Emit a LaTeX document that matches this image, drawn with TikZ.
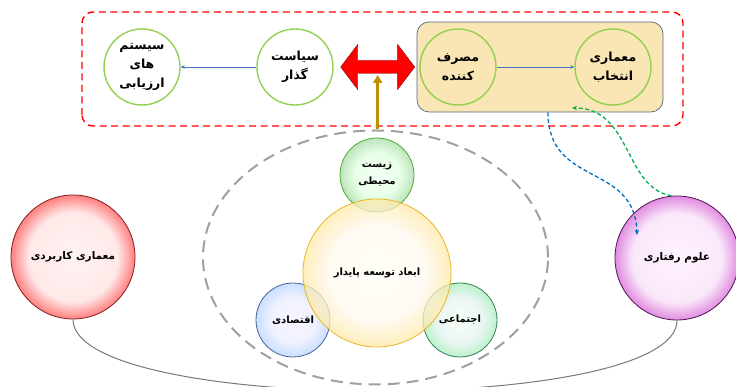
\documentclass[tikz,border=0pt]{standalone}
\usepackage{fontspec}
\newfontfamily\arabicfont[Script=Arabic]{DejaVu Sans}
\TeXXeTstate=1
\usetikzlibrary{arrows.meta, positioning, calc, shapes.geometric}

\definecolor{leafgreen}{RGB}{146, 208, 80}
\definecolor{boxtan}{RGB}{250, 229, 180}
\definecolor{boxedge}{RGB}{84, 100, 130}
\definecolor{linkblue}{RGB}{68, 114, 196}
\definecolor{dashblue}{RGB}{0, 112, 192}
\definecolor{dashgreen}{RGB}{0, 176, 80}
\definecolor{goldline}{RGB}{191, 144, 0}
\definecolor{ringgray}{RGB}{160, 160, 160}
\definecolor{curvegray}{RGB}{120, 120, 120}
\definecolor{coreedge}{RGB}{232, 182, 40}
\definecolor{envedge}{RGB}{80, 170, 50}
\definecolor{econedge}{RGB}{70, 100, 150}
\definecolor{socedge}{RGB}{50, 130, 90}
\definecolor{appedge}{RGB}{130, 30, 30}
\definecolor{behedge}{RGB}{80, 20, 80}
\definecolor{behrim}{RGB}{225, 140, 225}

% radial fills for the round nodes
\pgfdeclareradialshading{corefill}{\pgfpoint{0bp}{0bp}}{color(0bp)=(yellow!4); color(16bp)=(yellow!10!orange!6); color(25bp)=(yellow!50!orange!35); color(50bp)=(yellow!50!orange!35)}
\pgfdeclareradialshading{envfill}{\pgfpoint{0bp}{0bp}}{color(0bp)=(green!6); color(15bp)=(green!12); color(25bp)=(green!60!black!35); color(50bp)=(green!60!black!35)}
\pgfdeclareradialshading{econfill}{\pgfpoint{0bp}{0bp}}{color(0bp)=(blue!5); color(15bp)=(cyan!10!blue!8); color(25bp)=(cyan!40!blue!28); color(50bp)=(cyan!40!blue!28)}
\pgfdeclareradialshading{socfill}{\pgfpoint{0bp}{0bp}}{color(0bp)=(green!5); color(15bp)=(teal!10); color(25bp)=(green!60!teal!35); color(50bp)=(green!60!teal!35)}
\pgfdeclareradialshading{appfill}{\pgfpoint{0bp}{0bp}}{color(0bp)=(red!5); color(18bp)=(red!9); color(25bp)=(red!50); color(50bp)=(red!50)}
\pgfdeclareradialshading{behfill}{\pgfpoint{0bp}{0bp}}{color(0bp)=(magenta!5); color(18bp)=(behrim!20); color(25bp)=(behrim); color(50bp)=(behrim)}

\newcommand{\fatxt}[1]{\beginR #1\endR}

\tikzset{
  topcircle/.style={circle, draw=leafgreen, line width=1.4pt, minimum size=76pt, inner sep=0pt, align=center, font=\arabicfont\bfseries\fontsize{12.5}{19}\selectfont},
  dimcircle/.style={circle, draw=#1edge, line width=0.8pt, shading=#1fill, fill opacity=0.75, text opacity=1, minimum size=74pt, inner sep=0pt, align=center, font=\arabicfont\bfseries\fontsize{10}{17}\selectfont},
  bigcircle/.style={circle, draw=#1edge, line width=0.8pt, shading=#1fill, minimum size=124pt, inner sep=0pt, align=center, font=\arabicfont\bfseries\fontsize{10.5}{13}\selectfont},
  thinlink/.style={linkblue, line width=0.6pt, -{Stealth[length=4pt, width=3.5pt]}},
  softdash/.style={#1, line width=1.3pt, dash pattern=on 4pt off 2.5pt, -{Stealth[length=5pt, width=4.5pt]}}
}

\begin{document}
\begin{tikzpicture}[x=1pt, y=1pt]
  \useasboundingbox (0,0) rectangle (736,387);

  % upper band
  \draw[red, line width=1.4pt, dash pattern=on 7pt off 4.5pt, rounded corners=11pt] (82,261) rectangle (683,375);
  \node[draw=boxedge, line width=0.7pt, fill=boxtan, rounded corners=12pt, minimum width=246pt, minimum height=90pt] (cbox) at (540,320) {};

  \node[topcircle] (assess) at (142,320) {\fatxt{سیستم}\\\fatxt{های}\\\fatxt{ارزیابی}};
  \node[topcircle] (policy) at (295,320) {\fatxt{سیاست}\\\fatxt{گذار}};
  \node[topcircle] (consumer) at (458,320) {\fatxt{مصرف}\\\fatxt{کننده}};
  \node[topcircle] (choice) at (613,320) {\fatxt{معماری}\\\fatxt{انتخاب}};

  \draw[thinlink] (policy) -- (assess);
  \draw[thinlink] (consumer) -- (choice);

  % red two-way arrow
  \coordinate (swapl) at ([xshift=7pt]policy.east);
  \coordinate (swapr) at ([xshift=-2pt]cbox.west);
  \coordinate (swapfoot) at ($(swapl)!0.5!(swapr)+(0,-8)$);
  \filldraw[fill=red, draw=red!55!black, line width=0.4pt]
    (swapl) -- ($(swapl)+(17,22.5)$) -- ($(swapl)+(17,6.5)$) -- ($(swapr)+(-17,6.5)$)
    -- ($(swapr)+(-17,22.5)$) -- (swapr) -- ($(swapr)+(-17,-22.5)$) -- ($(swapr)+(-17,-6.5)$)
    -- ($(swapl)+(17,-6.5)$) -- ($(swapl)+(17,-22.5)$) -- cycle;

  % lower group
  \node[ellipse, draw=ringgray, line width=2pt, dash pattern=on 12pt off 7pt, minimum width=345pt, minimum height=254pt, inner sep=0pt] (ring) at (375.5,129.5) {};
  \draw[goldline, line width=2.5pt, -{Triangle[length=8pt, width=9pt]}] (ring.north -| swapfoot) -- (swapfoot);

  \node[dimcircle=env] (env) at (377,212) {\fatxt{زیست}\\\fatxt{محیطی}};
  \node[dimcircle=econ] (econ) at (293,67) {\fatxt{اقتصادی}};
  \node[dimcircle=soc] (social) at (460,67) {\fatxt{اجتماعی}};
  \node[dimcircle=core, minimum size=148pt] (core) at (377,114) {\fatxt{ابعاد توسعه پایدار}};

  \node[bigcircle=app] (applied) at (73,130) {\fatxt{معماری کاربردی}};
  \node[bigcircle=beh] (behave) at (677,129) {\fatxt{علوم رفتاری}};

  \draw[curvegray, line width=1pt] (applied.south) .. controls +(0,-95) and +(0,-95) .. (behave.south);

  % dashed feedback links
  \coordinate (bstart) at ([xshift=8pt]cbox.south);
  \coordinate (bend) at (637,152);
  \coordinate (gend) at (572,279);
  \draw[softdash=dashblue] (bstart) .. controls +(0,-75) and +(-2,73) .. (bend);
  \draw[softdash=dashgreen] (behave.95) .. controls +(-48,8) and +(60,0) .. (gend);
\end{tikzpicture}
\end{document}
